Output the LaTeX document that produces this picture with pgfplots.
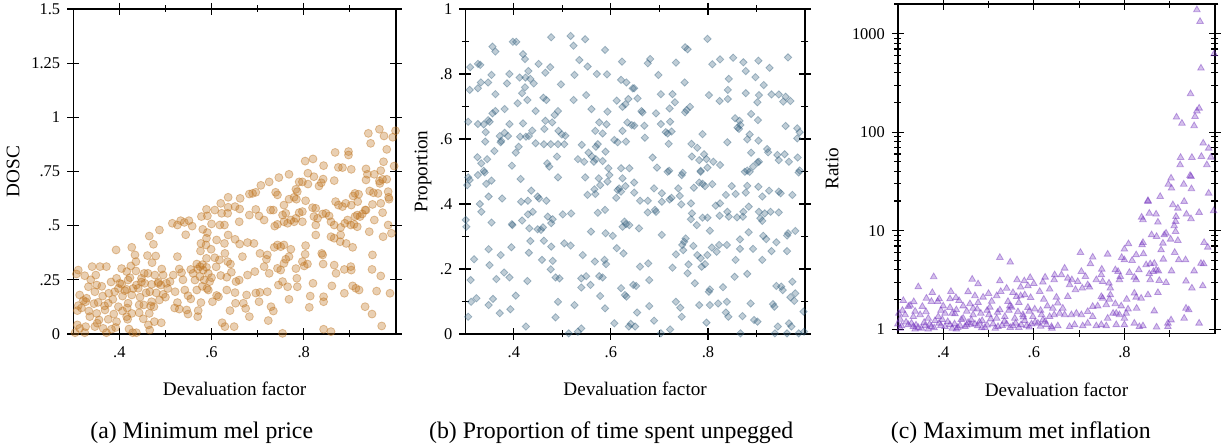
\documentclass[border=0pt]{standalone}
\usepackage{fontspec}
\setmainfont{Liberation Serif}
\usepackage{pgfplots}
\pgfplotsset{compat=1.18}
\definecolor{colA}{RGB}{190,115,30}
\definecolor{colB}{RGB}{55,98,127}
\definecolor{colC}{RGB}{115,50,190}
\pgfplotsset{
  common/.style={
    scale only axis,
    /pgf/number format/assume math mode=true,
    axis line style={line width=0.7pt},
    every tick/.style={line width=0.6pt, black},
    major tick length=6pt, minor tick length=3.5pt,
    tick align=center,
    xmin=0.3, xmax=1,
    xtick={0.4,0.6,0.8}, xticklabels={.4,.6,.8},
    minor xtick={0.5,0.7,0.9},
    tick label style={font=\fontsize{8.2}{9}\selectfont},
    label style={font=\fontsize{9.6}{11}\selectfont},
    xlabel={Devaluation factor},
    xlabel style={at={(axis description cs:0.5,-0.169)}, anchor=center},
    only marks,
  }
}
\begin{document}
\begin{tikzpicture}
\useasboundingbox (0,0) rectangle (612.5pt,224pt);
% ---------------- (a)
\begin{axis}[common,
  at={(36.6pt,57pt)}, anchor=south west,
  width=161.4pt, height=162.5pt,
  ymin=0, ymax=1.5,
  ytick={0,0.25,0.5,0.75,1,1.25,1.5},
  yticklabels={0,.25,.5,.75,1,1.25,1.5},
  ylabel={DOSC},
  ylabel style={at={(axis description cs:-0.1865,0.5)}, anchor=center},
]
\addplot[mark=*, mark size=2.0pt, mark options={fill=colA, draw=colA, fill opacity=0.34, draw opacity=0.42}] table {
0.636 0.631
0.620 0.603
0.636 0.585
0.651 0.588
0.589 0.575
0.607 0.572
0.622 0.557
0.635 0.557
0.578 0.542
0.591 0.545
0.515 0.511
0.533 0.523
0.541 0.515
0.551 0.523
0.558 0.498
0.526 0.503
0.618 0.503
0.628 0.503
0.600 0.508
0.581 0.483
0.591 0.468
0.487 0.480
0.465 0.452
0.544 0.458
0.474 0.414
0.589 0.442
0.577 0.418
0.588 0.411
0.611 0.434
0.636 0.457
0.651 0.437
0.628 0.418
0.393 0.388
0.427 0.400
0.434 0.365
0.461 0.362
0.479 0.360
0.526 0.357
0.576 0.383
0.599 0.391
0.589 0.349
0.607 0.352
0.629 0.372
0.617 0.342
0.635 0.334
0.641 0.323
0.436 0.334
0.471 0.329
0.492 0.300
0.425 0.314
0.405 0.302
0.372 0.311
0.358 0.311
0.341 0.311
0.311 0.295
0.307 0.277
0.325 0.269
0.349 0.272
0.416 0.288
0.436 0.291
0.454 0.280
0.477 0.272
0.495 0.272
0.517 0.272
0.535 0.283
0.555 0.298
0.568 0.323
0.575 0.311
0.582 0.295
0.589 0.308
0.593 0.280
0.575 0.265
0.584 0.249
0.564 0.249
0.596 0.242
0.633 0.262
0.643 0.285
0.653 0.242
0.394 0.257
0.419 0.249
0.448 0.257
0.455 0.234
0.470 0.229
0.484 0.234
0.490 0.226
0.502 0.234
0.510 0.242
0.333 0.218
0.351 0.226
0.401 0.234
0.437 0.226
0.441 0.211
0.416 0.206
0.390 0.195
0.377 0.188
0.347 0.195
0.364 0.175
0.407 0.175
0.427 0.180
0.466 0.195
0.495 0.183
0.521 0.195
0.542 0.203
0.549 0.177
0.568 0.203
0.555 0.162
0.593 0.203
0.611 0.178
0.633 0.203
0.651 0.191
0.314 0.180
0.329 0.165
0.311 0.131
0.327 0.149
0.354 0.146
0.376 0.142
0.398 0.126
0.419 0.142
0.443 0.134
0.453 0.134
0.470 0.149
0.475 0.126
0.465 0.095
0.487 0.157
0.526 0.145
0.546 0.111
0.530 0.115
0.549 0.092
0.571 0.108
0.577 0.145
0.602 0.149
0.615 0.172
0.640 0.108
0.652 0.142
0.309 0.108
0.334 0.106
0.351 0.095
0.369 0.111
0.388 0.092
0.407 0.106
0.416 0.080
0.427 0.095
0.443 0.098
0.336 0.080
0.356 0.065
0.376 0.068
0.394 0.057
0.418 0.068
0.309 0.042
0.314 0.026
0.327 0.034
0.347 0.034
0.365 0.026
0.383 0.022
0.421 0.023
0.429 0.006
0.463 0.042
0.466 0.018
0.476 0.057
0.491 0.052
0.570 0.080
0.623 0.052
0.629 0.034
0.649 0.034
0.304 0.006
0.325 0.006
0.372 0.006
0.437 0.006
0.318 0.120
0.322 0.155
0.338 0.250
0.345 0.140
0.352 0.050
0.362 0.220
0.368 0.130
0.382 0.240
0.386 0.160
0.392 0.030
0.398 0.210
0.405 0.230
0.412 0.200
0.417 0.120
0.423 0.260
0.430 0.210
0.445 0.170
0.448 0.240
0.452 0.070
0.458 0.190
0.462 0.280
0.468 0.130
0.480 0.190
0.485 0.240
0.500 0.170
0.505 0.210
0.520 0.120
0.530 0.300
0.538 0.250
0.560 0.280
0.570 0.300
0.580 0.220
0.580 0.320
0.590 0.210
0.600 0.260
0.610 0.310
0.620 0.270
0.940 0.926
0.964 0.945
0.974 0.914
0.993 0.908
0.999 0.938
0.945 0.880
0.980 0.852
0.973 0.795
0.996 0.775
0.897 0.842
0.897 0.826
0.868 0.838
0.803 0.798
0.820 0.808
0.843 0.777
0.903 0.760
0.875 0.769
0.884 0.768
0.935 0.762
0.967 0.754
0.953 0.737
0.938 0.737
0.935 0.711
0.964 0.706
0.971 0.714
0.980 0.714
0.965 0.695
0.943 0.660
0.951 0.652
0.961 0.649
0.983 0.657
0.984 0.631
0.985 0.622
0.967 0.603
0.949 0.598
0.935 0.572
0.911 0.649
0.907 0.637
0.917 0.611
0.919 0.645
0.903 0.595
0.891 0.603
0.869 0.611
0.875 0.595
0.884 0.588
0.866 0.708
0.842 0.715
0.838 0.698
0.833 0.683
0.822 0.726
0.809 0.742
0.809 0.692
0.797 0.702
0.790 0.702
0.783 0.668
0.786 0.657
0.779 0.631
0.784 0.622
0.804 0.615
0.768 0.737
0.746 0.722
0.725 0.702
0.707 0.686
0.739 0.654
0.743 0.642
0.696 0.654
0.689 0.649
0.682 0.646
0.662 0.626
0.661 0.577
0.696 0.575
0.682 0.549
0.703 0.545
0.714 0.526
0.660 0.518
0.728 0.572
0.734 0.572
0.757 0.595
0.768 0.622
0.761 0.557
0.754 0.549
0.772 0.526
0.783 0.534
0.790 0.560
0.797 0.565
0.797 0.518
0.779 0.518
0.765 0.511
0.757 0.518
0.743 0.506
0.737 0.498
0.819 0.583
0.826 0.580
0.822 0.542
0.826 0.503
0.830 0.534
0.841 0.554
0.848 0.557
0.855 0.545
0.859 0.518
0.866 0.503
0.880 0.492
0.889 0.511
0.895 0.526
0.902 0.503
0.909 0.506
0.916 0.495
0.922 0.542
0.927 0.554
0.933 0.572
0.911 0.542
0.916 0.549
0.942 0.472
0.953 0.526
0.971 0.560
0.983 0.503
0.990 0.465
0.972 0.449
0.859 0.449
0.866 0.442
0.880 0.457
0.879 0.426
0.892 0.418
0.906 0.400
0.826 0.457
0.804 0.408
0.803 0.368
0.797 0.334
0.808 0.323
0.801 0.314
0.783 0.302
0.768 0.357
0.761 0.345
0.757 0.326
0.750 0.295
0.736 0.400
0.743 0.411
0.750 0.403
0.757 0.411
0.772 0.391
0.721 0.365
0.719 0.345
0.714 0.311
0.725 0.280
0.705 0.372
0.692 0.418
0.678 0.422
0.661 0.415
0.667 0.357
0.694 0.288
0.678 0.272
0.660 0.249
0.676 0.180
0.696 0.189
0.705 0.192
0.721 0.195
0.703 0.149
0.729 0.126
0.734 0.106
0.669 0.142
0.674 0.118
0.682 0.080
0.723 0.062
0.743 0.303
0.745 0.226
0.754 0.242
0.765 0.218
0.768 0.160
0.786 0.218
0.785 0.257
0.814 0.175
0.820 0.234
0.812 0.123
0.843 0.172
0.843 0.149
0.842 0.323
0.841 0.365
0.839 0.372
0.866 0.318
0.870 0.280
0.861 0.222
0.888 0.298
0.888 0.188
0.902 0.311
0.903 0.295
0.906 0.222
0.913 0.211
0.920 0.203
0.949 0.365
0.948 0.298
0.967 0.268
0.958 0.198
0.987 0.188
0.933 0.126
0.948 0.092
0.969 0.037
0.843 0.022
0.859 0.011
0.754 0.003
};
\end{axis}
% ---------------- (b)
\begin{axis}[common,
  at={(232.65pt,57pt)}, anchor=south west,
  width=169.85pt, height=162.5pt,
  ymin=0, ymax=1,
  ytick={0,0.2,0.4,0.6,0.8,1},
  yticklabels={0,.2,.4,.6,.8,1},
  minor ytick={0.1,0.3,0.5,0.7,0.9},
  ylabel={Proportion},
  ylabel style={at={(axis description cs:-0.1245,0.5)}, anchor=center},
]
\addplot[mark=square*, mark size=1.3pt, mark options={rotate=45, fill=colB, draw=colB, fill opacity=0.32, draw opacity=0.4}] table {
0.477 0.913
0.517 0.917
0.547 0.907
0.523 0.887
0.398 0.899
0.405 0.899
0.356 0.884
0.362 0.869
0.588 0.874
0.419 0.861
0.423 0.846
0.535 0.843
0.623 0.838
0.310 0.821
0.326 0.831
0.331 0.828
0.552 0.823
0.451 0.831
0.475 0.821
0.430 0.809
0.391 0.800
0.354 0.797
0.465 0.804
0.525 0.797
0.571 0.800
0.592 0.799
0.412 0.789
0.424 0.789
0.434 0.785
0.441 0.771
0.386 0.771
0.332 0.774
0.347 0.774
0.309 0.751
0.326 0.756
0.423 0.759
0.497 0.768
0.621 0.782
0.632 0.774
0.645 0.756
0.417 0.741
0.362 0.738
0.461 0.727
0.467 0.720
0.549 0.735
0.523 0.720
0.408 0.710
0.428 0.720
0.612 0.718
0.636 0.723
0.630 0.707
0.624 0.699
0.381 0.692
0.362 0.686
0.356 0.679
0.445 0.686
0.491 0.686
0.484 0.674
0.560 0.692
0.593 0.684
0.306 0.653
0.326 0.646
0.347 0.658
0.350 0.653
0.338 0.645
0.391 0.646
0.419 0.648
0.465 0.656
0.479 0.651
0.576 0.651
0.591 0.645
0.634 0.651
0.643 0.643
0.463 0.631
0.492 0.625
0.499 0.614
0.506 0.610
0.568 0.625
0.583 0.617
0.624 0.625
0.342 0.621
0.381 0.619
0.388 0.609
0.371 0.609
0.374 0.594
0.373 0.590
0.413 0.607
0.425 0.607
0.438 0.626
0.431 0.609
0.341 0.592
0.445 0.587
0.462 0.584
0.476 0.584
0.491 0.584
0.504 0.584
0.540 0.582
0.573 0.584
0.569 0.576
0.607 0.597
0.614 0.590
0.631 0.592
0.360 0.563
0.404 0.558
0.410 0.576
0.554 0.558
0.561 0.546
0.569 0.538
0.589 0.561
0.325 0.544
0.345 0.538
0.333 0.525
0.338 0.502
0.396 0.518
0.469 0.525
0.473 0.515
0.489 0.546
0.532 0.538
0.545 0.530
0.565 0.530
0.583 0.532
0.595 0.510
0.621 0.510
0.638 0.510
0.799 0.908
0.753 0.882
0.758 0.876
0.681 0.846
0.676 0.833
0.734 0.835
0.809 0.830
0.825 0.845
0.852 0.850
0.873 0.836
0.878 0.809
0.904 0.841
0.927 0.819
0.965 0.851
0.698 0.797
0.752 0.774
0.843 0.785
0.898 0.790
0.915 0.766
0.648 0.756
0.655 0.725
0.703 0.738
0.727 0.738
0.802 0.735
0.841 0.751
0.824 0.717
0.841 0.723
0.878 0.741
0.905 0.735
0.902 0.713
0.931 0.737
0.946 0.737
0.960 0.730
0.955 0.715
0.970 0.717
0.732 0.713
0.721 0.694
0.763 0.699
0.756 0.689
0.753 0.682
0.663 0.686
0.665 0.682
0.693 0.679
0.669 0.641
0.648 0.641
0.703 0.646
0.722 0.653
0.713 0.621
0.717 0.617
0.725 0.623
0.670 0.604
0.856 0.664
0.865 0.656
0.867 0.643
0.861 0.635
0.864 0.631
0.889 0.677
0.903 0.658
0.960 0.640
0.984 0.633
0.989 0.621
0.984 0.602
0.789 0.615
0.840 0.590
0.886 0.614
0.881 0.599
0.904 0.595
0.719 0.585
0.766 0.585
0.778 0.573
0.767 0.546
0.782 0.535
0.792 0.553
0.797 0.538
0.811 0.530
0.825 0.520
0.799 0.512
0.686 0.543
0.695 0.512
0.720 0.502
0.748 0.496
0.785 0.502
0.889 0.558
0.922 0.569
0.924 0.559
0.943 0.551
0.958 0.553
0.946 0.535
0.967 0.530
0.985 0.543
0.905 0.530
0.902 0.528
0.893 0.515
0.881 0.503
0.989 0.503
0.306 0.482
0.309 0.474
0.326 0.489
0.340 0.497
0.304 0.458
0.343 0.462
0.354 0.472
0.414 0.477
0.491 0.482
0.547 0.482
0.575 0.479
0.597 0.489
0.624 0.479
0.614 0.443
0.617 0.448
0.621 0.438
0.593 0.469
0.578 0.458
0.566 0.445
0.568 0.431
0.552 0.428
0.611 0.419
0.630 0.455
0.376 0.417
0.348 0.423
0.415 0.407
0.429 0.410
0.436 0.441
0.449 0.423
0.452 0.417
0.467 0.410
0.501 0.368
0.518 0.371
0.429 0.368
0.439 0.376
0.417 0.349
0.330 0.400
0.333 0.376
0.301 0.351
0.354 0.343
0.396 0.338
0.397 0.335
0.432 0.325
0.449 0.322
0.460 0.328
0.456 0.320
0.470 0.361
0.480 0.353
0.477 0.341
0.504 0.279
0.517 0.272
0.434 0.286
0.462 0.287
0.477 0.269
0.431 0.250
0.395 0.267
0.373 0.243
0.348 0.261
0.318 0.230
0.350 0.212
0.458 0.228
0.480 0.225
0.476 0.199
0.486 0.174
0.494 0.171
0.539 0.171
0.549 0.178
0.558 0.151
0.539 0.143
0.576 0.178
0.583 0.174
0.587 0.228
0.590 0.215
0.567 0.223
0.542 0.243
0.559 0.315
0.589 0.310
0.604 0.302
0.573 0.373
0.588 0.382
0.612 0.264
0.626 0.248
0.628 0.346
0.631 0.338
0.638 0.335
0.624 0.330
0.311 0.166
0.364 0.169
0.380 0.189
0.391 0.174
0.428 0.163
0.312 0.099
0.323 0.110
0.357 0.108
0.348 0.089
0.404 0.118
0.371 0.064
0.393 0.076
0.306 0.053
0.491 0.099
0.486 0.051
0.525 0.089
0.578 0.117
0.621 0.141
0.629 0.120
0.632 0.115
0.588 0.079
0.607 0.033
0.425 0.023
0.513 0.002
0.532 0.007
0.539 0.017
0.637 0.023
0.641 0.031
0.646 0.151
0.299 0.305
0.302 0.330
0.648 0.466
0.648 0.435
0.660 0.410
0.676 0.410
0.689 0.448
0.705 0.433
0.705 0.407
0.721 0.414
0.725 0.419
0.739 0.448
0.742 0.425
0.745 0.399
0.717 0.499
0.746 0.489
0.785 0.499
0.782 0.466
0.789 0.462
0.794 0.455
0.809 0.461
0.771 0.450
0.765 0.402
0.767 0.371
0.765 0.353
0.789 0.358
0.799 0.358
0.777 0.335
0.804 0.318
0.676 0.374
0.691 0.382
0.693 0.376
0.658 0.325
0.705 0.305
0.816 0.395
0.825 0.402
0.824 0.364
0.840 0.376
0.843 0.361
0.837 0.428
0.849 0.455
0.857 0.431
0.881 0.456
0.878 0.435
0.876 0.499
0.886 0.499
0.904 0.453
0.912 0.423
0.926 0.441
0.946 0.438
0.950 0.433
0.974 0.428
0.987 0.497
0.884 0.392
0.873 0.376
0.860 0.359
0.872 0.361
0.905 0.376
0.908 0.356
0.912 0.348
0.917 0.371
0.929 0.376
0.946 0.374
0.884 0.313
0.914 0.302
0.920 0.292
0.941 0.282
0.965 0.310
0.963 0.303
0.980 0.317
0.963 0.255
0.931 0.255
0.893 0.262
0.866 0.291
0.866 0.262
0.857 0.228
0.839 0.274
0.823 0.274
0.818 0.253
0.808 0.266
0.754 0.294
0.751 0.284
0.747 0.274
0.749 0.258
0.734 0.245
0.770 0.271
0.778 0.243
0.785 0.233
0.799 0.243
0.794 0.215
0.787 0.207
0.760 0.214
0.758 0.187
0.773 0.156
0.727 0.204
0.677 0.217
0.660 0.207
0.679 0.166
0.652 0.148
0.804 0.137
0.802 0.130
0.831 0.144
0.855 0.176
0.881 0.185
0.912 0.228
0.941 0.148
0.951 0.146
0.954 0.135
0.974 0.161
0.970 0.113
0.980 0.125
0.978 0.102
0.782 0.089
0.804 0.089
0.821 0.094
0.839 0.099
0.837 0.066
0.842 0.053
0.871 0.055
0.888 0.094
0.895 0.043
0.902 0.038
0.934 0.092
0.937 0.084
0.944 0.023
0.967 0.033
0.972 0.023
0.963 0.002
0.987 0.002
0.998 0.007
0.997 0.069
0.654 0.066
0.679 0.086
0.689 0.041
0.650 0.023
0.734 0.099
0.743 0.081
0.746 0.053
0.722 0.014
0.703 0.002
0.797 0.035
0.867 0.002
0.938 0.002
};
\end{axis}
% ---------------- (c)
\begin{axis}[common,
  at={(448.95pt,57.15pt)}, anchor=south west,
  width=158.55pt, height=164.85pt,
  ymode=log, ymin=0.9, ymax=2000,
  ytick={1,10,100,1000},
  yticklabels={1,10,100,1000},
  minor ytick={2,3,4,5,6,7,8,9,20,30,40,50,60,70,80,90,200,300,400,500,600,700,800,900,2000},
  ylabel={Ratio},
  ylabel style={at={(axis description cs:-0.2078,0.5)}, anchor=center},
]
\addplot[mark=triangle*, mark size=1.9pt, mark options={fill=colC, draw=colC, fill opacity=0.3, draw opacity=0.45}] table {
0.525 5.34
0.548 4.79
0.379 3.40
0.464 3.21
0.477 2.88
0.525 3.09
0.345 2.69
0.376 2.35
0.417 2.41
0.428 2.09
0.391 2.03
0.363 2.06
0.415 2.03
0.470 2.18
0.488 2.11
0.507 1.92
0.518 2.18
0.527 2.41
0.554 2.35
0.563 3.17
0.579 3.09
0.592 3.34
0.571 2.67
0.587 2.75
0.562 2.14
0.571 2.18
0.580 2.23
0.593 2.09
0.312 1.95
0.327 1.75
0.323 1.70
0.354 1.70
0.374 1.91
0.388 1.91
0.400 1.72
0.415 1.66
0.429 1.57
0.444 1.72
0.459 1.81
0.477 1.86
0.466 1.63
0.503 1.67
0.525 1.57
0.547 1.72
0.543 1.91
0.551 1.67
0.567 1.86
0.587 1.66
0.602 1.60
0.613 2.41
0.635 2.55
0.625 3.37
0.645 3.17
0.622 2.01
0.630 1.72
0.642 1.63
0.302 1.45
0.316 1.40
0.305 1.26
0.334 1.34
0.349 1.40
0.367 1.29
0.389 1.34
0.404 1.45
0.426 1.43
0.444 1.29
0.466 1.40
0.483 1.45
0.501 1.40
0.518 1.29
0.536 1.34
0.558 1.29
0.576 1.40
0.598 1.34
0.617 1.40
0.635 1.34
0.645 1.40
0.300 1.13
0.308 1.08
0.323 1.11
0.334 1.06
0.345 1.04
0.360 1.08
0.374 1.06
0.391 1.15
0.404 1.06
0.415 1.11
0.432 1.04
0.448 1.06
0.461 1.12
0.476 1.08
0.492 1.04
0.510 1.13
0.521 1.06
0.540 1.13
0.554 1.08
0.567 1.04
0.584 1.08
0.595 1.13
0.609 1.15
0.628 1.11
0.639 1.06
0.338 1.00
0.367 1.00
0.429 1.00
0.382 1.22
0.462 1.24
0.486 1.22
0.580 1.22
0.620 1.24
0.305 1.02
0.318 1.18
0.330 1.15
0.340 1.10
0.352 1.02
0.358 1.17
0.370 1.12
0.380 1.03
0.395 1.09
0.398 1.25
0.410 1.19
0.420 1.02
0.425 1.13
0.437 1.09
0.440 1.25
0.452 1.10
0.455 1.17
0.470 1.13
0.480 1.18
0.485 1.03
0.497 1.10
0.505 1.27
0.515 1.02
0.530 1.09
0.535 1.20
0.548 1.04
0.560 1.15
0.572 1.11
0.577 1.33
0.590 1.05
0.603 1.18
0.615 1.07
0.625 1.20
0.640 1.02
0.310 1.55
0.338 1.52
0.362 1.50
0.395 1.55
0.420 1.45
0.452 1.52
0.475 1.60
0.497 1.55
0.520 1.48
0.545 1.55
0.565 1.50
0.590 1.52
0.615 1.55
0.335 1.90
0.435 1.95
0.455 2.40
0.500 2.30
0.540 2.60
0.600 2.90
0.620 3.00
0.852 19.8
0.907 18.3
0.932 19.8
0.918 16.9
0.855 15.0
0.870 14.7
0.838 13.7
0.841 12.9
0.874 12.2
0.914 13.9
0.913 12.4
0.910 11.2
0.937 14.7
0.947 13.2
0.965 15.3
0.997 15.9
0.892 9.42
0.888 9.07
0.860 9.07
0.871 8.72
0.913 9.80
0.902 8.19
0.918 7.94
0.885 7.46
0.881 6.38
0.841 7.58
0.839 7.18
0.809 7.35
0.800 6.49
0.794 5.34
0.800 5.05
0.817 4.98
0.826 5.68
0.842 5.81
0.848 4.50
0.857 4.60
0.866 4.65
0.870 4.00
0.864 3.85
0.875 3.90
0.886 5.13
0.911 6.00
0.920 5.05
0.935 5.05
0.954 3.90
0.969 4.65
0.975 4.60
0.976 7.58
0.984 6.79
0.904 3.90
0.703 6.00
0.730 5.38
0.763 5.77
0.725 4.60
0.750 4.06
0.780 4.00
0.786 3.85
0.791 3.42
0.789 3.17
0.811 3.76
0.822 3.37
0.826 3.17
0.832 4.00
0.855 3.64
0.857 3.17
0.877 3.12
0.892 2.97
0.874 2.35
0.852 2.23
0.837 2.06
0.826 2.11
0.822 2.32
0.805 2.01
0.936 3.07
0.949 2.61
0.973 2.75
0.668 4.16
0.646 3.56
0.661 3.56
0.675 3.29
0.684 3.17
0.679 2.82
0.697 3.04
0.705 3.85
0.714 3.42
0.719 2.82
0.723 2.67
0.738 3.17
0.749 3.56
0.752 3.04
0.766 2.93
0.769 2.61
0.707 2.61
0.692 2.51
0.675 2.14
0.650 2.11
0.653 1.84
0.664 1.63
0.657 1.45
0.668 1.40
0.683 1.40
0.694 1.45
0.705 1.40
0.719 1.51
0.730 1.70
0.741 1.72
0.749 2.14
0.752 2.06
0.767 2.01
0.769 2.23
0.760 1.77
0.780 1.81
0.782 1.45
0.793 1.72
0.804 1.45
0.808 1.60
0.789 1.40
0.800 1.29
0.775 1.45
0.763 1.29
0.730 1.34
0.749 1.11
0.760 1.08
0.782 1.11
0.800 1.11
0.822 1.15
0.833 1.06
0.841 1.08
0.871 1.05
0.896 1.15
0.896 1.06
0.903 1.24
0.932 1.29
0.965 1.15
0.936 1.63
0.942 1.57
0.866 1.53
0.653 1.08
0.679 1.06
0.690 1.11
0.708 1.08
0.719 1.15
0.738 1.08
0.827 1.63
0.960 1745
0.967 1327
0.998 623
0.969 446
0.946 245
0.965 175
0.960 164
0.956 144
0.915 142
0.927 123
0.954 116
0.974 77.3
0.986 68.7
0.924 55.3
0.949 55.3
0.970 56.6
0.991 55.7
0.923 46.6
0.982 46.6
0.903 34.1
0.897 29.6
0.904 27.0
0.945 36.3
0.947 35.5
0.931 29.6
0.948 26.6
0.986 24.0
0.879 22.2
0.852 20.2
};
\end{axis}
% captions
\node[anchor=base, font=\fontsize{11.9}{14}\selectfont] at (100.85pt,4.85pt) {(a) Minimum mel price};
\node[anchor=base, font=\fontsize{11.9}{14}\selectfont] at (305.6pt,4.85pt) {(b) Proportion of time spent unpegged};
\node[anchor=base, font=\fontsize{11.9}{14}\selectfont] at (510.4pt,4.85pt) {(c) Maximum met inflation};
\end{tikzpicture}
\end{document}
